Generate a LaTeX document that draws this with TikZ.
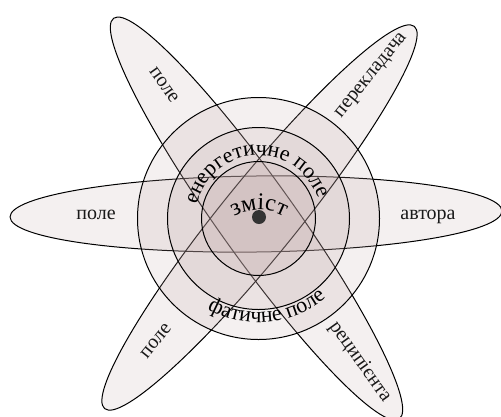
\documentclass[tikz,border=0pt]{standalone}
\usepackage{fontspec}
\setmainfont{Liberation Serif}
\usepackage{tikz}
\usetikzlibrary{shapes.geometric, decorations.text}
\definecolor{petalfill}{RGB}{190,165,165}
\newcommand\arcfont{\fontsize{22}{22}\selectfont}
\newcommand\corefont{\fontsize{24}{24}\selectfont}

\begin{document}
\begin{tikzpicture}[x=1pt, y=1pt,
  petal/.style={ellipse, draw=black, line width=1pt, fill=petalfill,
    fill opacity=0.17, minimum width=492pt, minimum height=76pt,
    inner sep=0pt},
  ring/.style={circle, draw=black, line width=1pt, fill=petalfill,
    fill opacity=0.17, inner sep=0pt},
  lbl/.style={font=\fontsize{20}{20}\selectfont, inner sep=1pt,
    text=black!90},
  core/.style={circle, fill=black!80, minimum size=14pt, inner sep=0pt}
]
\useasboundingbox (0,0) rectangle (501,-416);

%% ── Petals ──
\node[petal, rotate=0.7]   (pH) at (256,-214)     {};
\node[petal, rotate=-54.5] (pA) at (256.5,-218.5) {};
\node[petal, rotate=51]    (pB) at (259.5,-217.5) {};

%% ── Fields ──
\coordinate (c) at (258.5,-218.5);
\node[ring, minimum size=242pt] (outer)  at (c) {};
\node[ring, minimum size=182pt] (middle) at (c) {};
\node[ring, minimum size=114pt] (inner)  at (c) {};
\node[core] (dot) at (259,-217) {};

%% ── Petal labels ──
\node[lbl]               (left)  at (96,-215)  {поле};
\node[lbl]               (right) at (428,-217) {автора};
\node[lbl, rotate=-54.5] (tl)    at (164,-85)  {поле};
\node[lbl, rotate=51]    (tr)    at (372,-76)  {перекладача};
\node[lbl, rotate=51]    (bl)    at (156,-341) {поле};
\node[lbl, rotate=-54.5] (br)    at (360,-362) {реципієнта};

%% ── Curved labels ──
\path[decorate, decoration={text along path, text align=center,
  text={|\arcfont|енергетичне поле}}]
  (c) ++(175:63) arc[start angle=175, end angle=11, radius=63];
\path[decorate, decoration={text along path, text align=center,
  text={|\arcfont|фатичне поле}}]
  (c) ++(230.5:104) arc[start angle=230.5, end angle=320.5, radius=104];
\path[decorate, decoration={text along path, text align=center,
  text={|\corefont|зміст}}]
  (259,-260) ++(135:50) arc[start angle=135, end angle=45, radius=50];

\end{tikzpicture}
\end{document}
